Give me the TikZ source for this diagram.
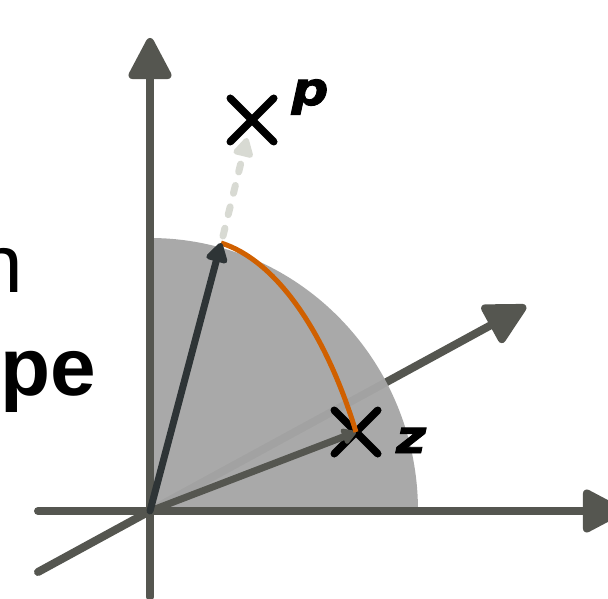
\documentclass[tikz,border=0pt]{standalone}
\usepackage{fontspec}
\setmainfont{Liberation Sans}
\newfontfamily\labelfont[BoldItalicFeatures={FakeBold=2,FakeStretch=1.12}]{DejaVu Sans}
\usetikzlibrary{arrows.meta, shapes.misc}
\definecolor{axisGray}{HTML}{555650}
\definecolor{discGray}{HTML}{A6A6A6}
\definecolor{vecDark}{HTML}{2E3436}
\definecolor{vecPale}{HTML}{D8DAD3}
\definecolor{arcOrange}{HTML}{D06000}
\tikzset{
	axisline/.style={draw=axisGray, line width=8pt, line cap=round,
		-{Triangle[round, length=46pt, width=46pt]}},
	crossmark/.style={cross out, draw=black, line width=7.5pt, line cap=round,
		minimum size=36pt, inner sep=0pt},
	pointlabel/.style={anchor=base, inner sep=0pt,
		font=\labelfont\fontsize{46}{46}\selectfont\bfseries\itshape},
	wordpiece/.style={inner sep=0pt, font=\fontsize{82}{82}\selectfont},
}

\begin{document}
\begin{tikzpicture}[x=1pt, y=-1pt]
	\useasboundingbox (0,0) rectangle (608,599);
	\coordinate (origin) at (150,511);
	\coordinate (xstart) at (38,511);
	\coordinate (xend) at (624,511);
	\coordinate (ystart) at (150,597);
	\coordinate (yend) at (150,38);
	\coordinate (dstart) at (38,572);
	\coordinate (dend) at (526,306);
	\coordinate (qtip) at (221,243);
	\coordinate (gap) at (223,236);
	\coordinate (ptip) at (247,138);

	\node[wordpiece, anchor=base east] (wordn) at (23,292) {n};
	\node[wordpiece, anchor=base west] (wordpe) at (0,395) {\bfseries pe};

	\draw[axisline] (dstart) -- (dend);
	\fill[discGray, opacity=0.96] (origin) -- (418,511) arc[start angle=0, end angle=-90, x radius=268, y radius=273] -- cycle;
	\draw[axisline] (xstart) -- (xend);
	\draw[axisline] (ystart) -- (yend);

	\node[crossmark] (z) at (356,432) {};
	\node[crossmark] (p) at (252,120) {};
	\node[pointlabel] (zlabel) at (411,453) {z};
	\node[pointlabel] (plabel) at (310,105) {p};

	\draw[draw=axisGray, line width=7pt, -{Triangle[round, length=16pt, width=18pt]}] (origin) -- (z.center);
	\draw[arcOrange, line width=5pt] (qtip) .. controls (275,260) and (325,330) .. (z.center);
	\draw[vecDark, line width=7pt, line cap=round, -{Triangle[round, length=22pt, width=24pt]}] (origin) -- (qtip);
	\draw[vecPale, line width=7pt, line cap=round, dash pattern=on 8pt off 14pt, -{Triangle[round, length=22pt, width=22pt]}] (gap) -- (ptip);
\end{tikzpicture}
\end{document}
